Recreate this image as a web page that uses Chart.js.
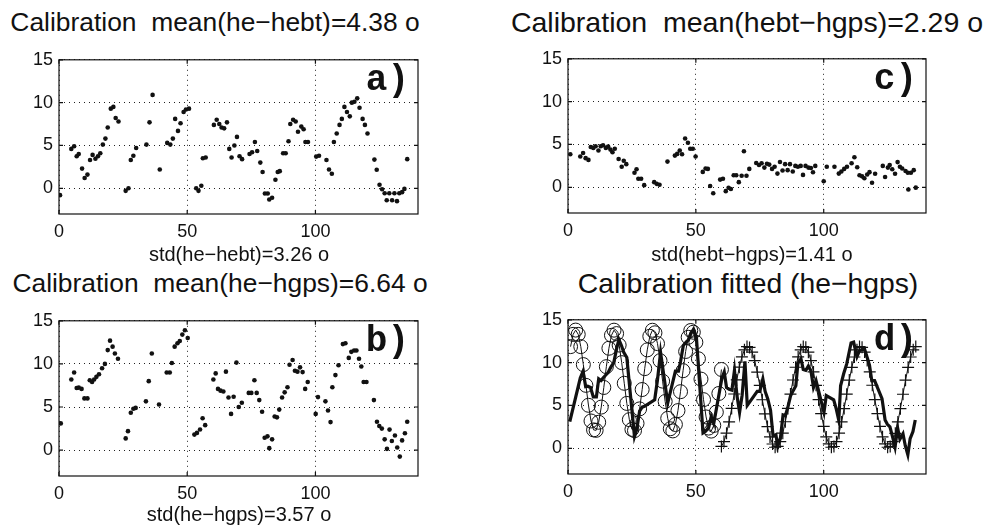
<!DOCTYPE html>
<html><head><meta charset="utf-8">
<script src="https://cdn.jsdelivr.net/npm/chart.js@4.4.1/dist/chart.umd.min.js"></script>
<style>
html,body{margin:0;padding:0;background:#fff;}
body{width:989px;height:530px;position:relative;overflow:hidden;font-family:'Liberation Sans',Arial,sans-serif;color:#111;}
canvas{position:absolute;}
.t{position:absolute;white-space:pre;line-height:1;transform:translateX(-50%);}
</style></head><body>
<canvas id="ca"></canvas><canvas id="cc"></canvas><canvas id="cb"></canvas><canvas id="cd"></canvas>
<div class="t" style="left:215px;top:9px;font-size:26.4px">Calibration  mean(he−hebt)=4.38 o</div>
<div class="t" style="left:747px;top:8px;font-size:28.5px">Calibration  mean(hebt−hgps)=2.29 o</div>
<div class="t" style="left:220px;top:270px;font-size:26.4px">Calibration  mean(he−hgps)=6.64 o</div>
<div class="t" style="left:748px;top:269px;font-size:28.3px">Calibration fitted (he−hgps)</div>
<div class="t" style="left:239px;top:244px;font-size:20px">std(he−hebt)=3.26 o</div>
<div class="t" style="left:752px;top:244px;font-size:20px">std(hebt−hgps)=1.41 o</div>
<div class="t" style="left:239px;top:504px;font-size:20px">std(he−hgps)=3.57 o</div>
<script>
// ---- data ----
const xTicks = [0, 50, 100];
const yTicks = [0, 5, 10, 15];

const aX = [0.4,4.8,5.9,6.9,7.7,9.0,10.0,11.1,12.1,13.1,14.2,15.2,16.1,17.1,18.1,19.0,20.2,21.2,22.1,23.2,26.0,27.1,28.0,29.0,30.1,34.1,35.3,36.5,39.3,42.2,43.4,44.4,45.3,46.4,47.4,48.6,49.5,50.7,53.5,54.4,55.5,56.1,57.2,60.4,61.5,62.5,63.4,64.4,65.5,66.4,67.3,68.4,69.4,70.4,71.4,74.3,75.3,76.4,77.3,78.5,79.4,80.3,81.4,82.0,83.1,84.4,85.3,86.1,87.4,88.4,89.5,90.2,91.3,92.3,93.2,94.5,95.4,96.1,97.1,100.3,101.4,104.3,105.3,106.4,107.2,108.3,109.4,110.3,111.3,112.3,113.4,114.2,115.2,116.3,117.2,118.4,119.3,120.3,123.0,123.9,125.0,126.0,127.0,127.8,128.8,129.9,130.8,131.8,132.7,133.8,134.7,135.8];
const aY = [-0.8,4.6,4.9,3.75,4.0,2.3,1.2,1.6,3.3,3.9,3.45,3.75,4.1,5.1,5.8,7.1,9.3,9.5,8.2,7.8,-0.3,0.0,3.3,3.8,4.7,5.1,7.7,10.9,2.2,5.3,5.1,5.8,8.1,6.7,7.6,8.9,9.2,9.3,0.0,-0.3,0.3,3.5,3.6,7.4,8.0,7.5,7.1,7.0,7.7,4.6,3.6,5.0,6.0,3.75,3.4,4.0,4.2,5.4,4.35,3.0,1.9,-0.6,-0.6,-1.3,-1.1,1.0,1.9,2.0,4.1,4.1,5.5,7.5,8.0,7.8,6.6,7.2,6.9,5.4,5.4,3.7,3.8,3.3,2.2,1.7,5.4,6.4,7.4,8.1,9.5,8.9,8.4,10.0,10.1,10.5,9.4,8.1,7.4,6.4,3.35,2.17,0.42,-0.11,-0.57,-1.4,-0.57,-1.4,-0.57,-1.5,-0.57,-0.45,-0.07,3.4];

const cX = [0.9,4.8,5.9,6.9,8.0,8.9,9.9,10.8,11.9,12.8,13.7,14.8,15.7,16.6,17.4,18.3,19.8,21.0,21.8,22.8,26.0,26.8,27.5,28.6,29.8,33.7,34.7,35.8,38.9,41.8,42.7,43.7,44.6,45.8,46.9,47.8,48.8,49.9,52.7,53.8,54.7,55.6,56.8,59.5,60.6,61.7,62.8,63.7,64.8,65.8,66.8,67.9,68.8,69.8,70.9,73.6,74.7,75.7,76.8,77.8,78.7,79.8,80.8,81.9,82.9,83.9,84.9,85.9,86.8,87.9,88.9,89.9,91.0,91.9,92.9,94.0,95.0,95.8,96.7,100.0,101.2,104.2,105.9,106.9,108.0,109.1,110.9,112.0,113.1,114.0,115.0,115.9,117.0,117.9,118.9,120.1,123.1,124.0,125.1,125.8,126.8,127.9,128.9,129.8,130.7,132.0,132.9,133.1,134.1,135.2,136.0];
const cY = [3.85,3.6,4.0,3.4,3.2,4.7,4.6,4.8,4.3,4.8,4.9,4.6,4.75,4.4,4.1,4.5,3.3,2.4,3.1,2.7,1.7,2.1,1.0,1.0,0.25,0.6,0.4,0.3,3.0,3.7,3.9,4.3,3.85,5.7,5.2,4.5,4.5,3.6,1.8,2.2,2.15,0.15,-0.7,0.9,1.0,-0.45,-0.05,-0.2,1.4,1.4,0.6,1.35,4.2,1.35,2.15,2.83,2.6,2.8,2.3,2.75,2.65,2.15,2.4,1.6,2.95,1.96,2.7,2.0,2.7,1.85,2.5,2.4,2.5,1.45,2.5,2.3,2.25,1.75,2.5,0.7,2.4,2.4,1.6,1.85,2.15,2.4,2.8,3.5,2.34,1.4,1.28,1.06,1.5,1.77,0.53,1.58,2.5,1.21,2.3,2.6,2.1,1.58,2.94,2.4,2.2,1.9,1.7,-0.26,1.7,2.0,-0.04];

const bX = [0.7,4.8,5.9,6.9,7.7,8.8,9.9,11.1,12.0,12.9,13.7,14.6,15.6,16.8,17.9,19.0,19.9,20.9,21.8,23.0,26.0,26.9,28.0,29.0,29.9,33.9,35.0,36.2,39.0,42.0,43.2,44.0,45.1,46.2,47.1,48.1,49.1,50.2,52.8,53.8,55.0,56.0,57.0,60.2,61.1,62.0,63.0,64.1,65.1,66.1,67.1,68.1,69.2,70.1,71.3,74.0,75.0,76.2,77.1,78.1,79.2,80.2,81.3,82.0,83.1,84.1,85.0,85.9,87.0,88.0,89.1,89.9,91.1,92.0,93.0,94.0,95.0,96.0,97.0,100.1,101.0,103.9,104.9,105.9,106.6,107.8,109.0,110.7,111.7,113.0,114.0,115.1,116.0,117.0,117.9,118.8,119.9,122.8,124.0,124.9,125.9,127.0,127.9,128.9,129.8,131.0,131.9,132.9,133.8,134.9,135.8];
const bY = [3.1,8.2,9.0,7.2,7.25,7.1,6.0,6.0,8.1,7.9,8.2,8.5,8.8,9.5,10.0,11.6,12.7,12.0,11.2,10.6,1.36,2.2,4.34,4.8,4.9,5.66,8.0,11.2,5.3,9.0,9.0,10.1,12.0,12.4,12.65,13.4,13.9,13.0,1.8,2.0,2.4,3.7,2.9,8.2,8.9,7.1,6.9,6.8,9.1,6.1,4.2,6.2,10.15,5.0,5.5,6.64,6.64,8.1,6.64,5.8,4.45,1.43,1.6,0.23,1.25,3.9,3.8,4.7,6.1,6.7,7.3,9.9,10.45,9.2,9.1,9.6,9.05,7.1,7.9,4.2,6.15,5.66,4.6,3.25,7.3,8.7,9.85,12.3,12.4,10.7,11.4,11.55,11.55,10.6,9.7,7.9,7.9,5.8,3.3,2.8,2.5,1.25,0.15,2.38,1.06,1.7,0.3,-0.75,1.13,1.96,3.3];

// panel d: fitted curves (circles and pluses)
const fitOX = [1,2,3,4,5,6,7,8,9,10,11,12,13,14,15,16,17,18,19,20,21,22,23,24,25,26,27,28,29,30,31,32,33,34,35,36,37,38,39,40,41,42,43,44,45,46,47,48,49,50,51,52,53,54,55,56,57,58,59,60];
const fitOY = [11.87,13.30,13.80,13.30,11.87,9.77,7.35,5.02,3.19,2.15,2.10,3.04,4.81,7.10,9.53,11.68,13.19,13.79,13.39,12.05,10.00,7.59,5.24,3.34,2.21,2.06,2.91,4.60,6.86,9.30,11.49,13.08,13.78,13.48,12.22,10.23,7.84,5.46,3.50,2.28,2.03,2.78,4.40,6.61,9.06,11.30,12.96,13.75,13.55,12.38,10.45,8.08,5.68,3.66,2.36,2.01,2.67,4.22,6.40,9.20];
const fitPX = [60,61,62,63,64,65,66,67,68,69,70,71,72,73,74,75,76,77,78,79,80,81,82,83,84,85,86,87,88,89,90,91,92,93,94,95,96,97,98,99,100,101,102,103,104,105,106,107,108,109,110,111,112,113,114,115,116,117,118,119,120,121,122,123,124,125,126,127,128,129,130,131,132,133,134,135,136];
const fitPY = [0.22,0.78,1.77,3.09,4.66,6.34,7.98,9.47,10.67,11.50,11.88,11.78,11.22,10.24,8.90,7.34,5.67,4.02,2.54,1.33,0.50,0.12,0.22,0.78,1.76,3.10,4.65,6.33,7.97,9.46,10.67,11.49,11.88,11.79,11.22,10.24,8.91,7.35,5.68,4.04,2.55,1.33,0.51,0.12,0.21,0.77,1.76,3.08,4.64,6.32,7.96,9.45,10.66,11.49,11.88,11.79,11.23,10.25,8.93,7.36,5.69,4.04,2.55,1.34,0.51,0.12,0.21,0.77,1.75,3.08,4.63,6.31,7.95,9.45,10.66,11.49,11.88];

const pts = (xs, ys) => xs.map((x, i) => ({x, y: ys[i]}));

Chart.defaults.font.family = "'Liberation Sans', Arial, sans-serif";
Chart.defaults.color = '#111';
Chart.defaults.animation = false;

const INK = '#111';
const YW = 60, XH = 40, PT = 12, PR = 12;

const framePlugin = {
  id: 'frame',
  beforeDatasetsDraw(chart, args, opts) {
    const {ctx, chartArea: a} = chart;
    if (opts.label) {
      ctx.save();
      ctx.fillStyle = INK;
      ctx.font = "bold 36px 'Liberation Mono', 'Courier New', monospace";
      ctx.textAlign = 'right';
      ctx.textBaseline = 'alphabetic';
      ctx.fillText(opts.label, a.right - 9, a.top + 30);
      ctx.restore();
    }
  },
  afterDatasetsDraw(chart) {
    const {ctx, chartArea: a, scales: {x, y}} = chart;
    ctx.save();
    ctx.strokeStyle = INK;
    ctx.lineWidth = 1.2;
    ctx.strokeRect(a.left, a.top, a.right - a.left, a.bottom - a.top);
    ctx.beginPath();
    x.ticks.forEach(t => {
      const p = x.getPixelForValue(t.value);
      ctx.moveTo(p, a.bottom); ctx.lineTo(p, a.bottom - 4);
      ctx.moveTo(p, a.top); ctx.lineTo(p, a.top + 4);
    });
    y.ticks.forEach(t => {
      const p = y.getPixelForValue(t.value);
      ctx.moveTo(a.left, p); ctx.lineTo(a.left + 4, p);
      ctx.moveTo(a.right, p); ctx.lineTo(a.right - 4, p);
    });
    ctx.stroke();
    ctx.restore();
  }
};

function makePanel(id, L, T, R, B, datasets, label) {
  const cv = document.getElementById(id);
  const w = (R - L) + YW + PR, h = (B - T) + PT + XH;
  cv.width = w; cv.height = h;
  cv.style.width = w + 'px'; cv.style.height = h + 'px';
  cv.style.left = (L - YW) + 'px'; cv.style.top = (T - PT) + 'px';
  const grid = {color: '#222', lineWidth: 1, drawTicks: false};
  new Chart(cv, {
    type: 'scatter',
    data: {datasets},
    plugins: [framePlugin],
    options: {
      responsive: false,
      animation: false,
      events: [],
      layout: {padding: {left: 0, top: PT, right: PR, bottom: 0}, autoPadding: false},
      plugins: {legend: {display: false}, tooltip: {enabled: false}, frame: {label}},
      scales: {
        x: {
          type: 'linear', min: 0, max: 140,
          afterBuildTicks: s => { s.ticks = xTicks.map(v => ({value: v})); },
          afterFit: s => { s.height = XH; },
          grid, border: {display: false, dash: [1, 4]},
          ticks: {font: {size: 18}, color: INK, padding: 7, maxRotation: 0}
        },
        y: {
          type: 'linear', min: -3, max: 15,
          afterBuildTicks: s => { s.ticks = yTicks.map(v => ({value: v})); },
          afterFit: s => { s.width = YW; },
          grid, border: {display: false, dash: [1, 4]},
          ticks: {font: {size: 18}, color: INK, padding: 6}
        }
      }
    }
  });
}

const dots = (xs, ys) => ({
  data: pts(xs, ys), showLine: false, pointRadius: 2.3, pointBackgroundColor: INK,
  pointBorderWidth: 0, pointStyle: 'circle'
});

makePanel('ca', 59, 55, 418, 214, [dots(aX, aY)], 'a)');
makePanel('cc', 568, 54, 926, 213, [dots(cX, cY)], 'c)');
makePanel('cb', 59, 316, 418, 476, [dots(bX, bY)], 'b)');
makePanel('cd', 568, 315, 926, 474, [
  {data: pts(bX, bY), showLine: true, borderColor: INK, borderWidth: 3.2, pointRadius: 0, tension: 0, order: 0},
  {data: pts(fitOX, fitOY), showLine: true, borderColor: INK, borderWidth: 1, pointStyle: 'circle',
   pointRadius: 7, pointBorderColor: INK, pointBackgroundColor: 'rgba(0,0,0,0)', pointBorderWidth: 1, tension: 0, order: 1},
  {data: pts(fitPX, fitPY), showLine: true, borderColor: INK, borderWidth: 1, pointStyle: 'cross',
   pointRadius: 6, pointBorderColor: INK, pointBorderWidth: 1.2, tension: 0, order: 2}
], 'd)');
</script>
</body></html>
